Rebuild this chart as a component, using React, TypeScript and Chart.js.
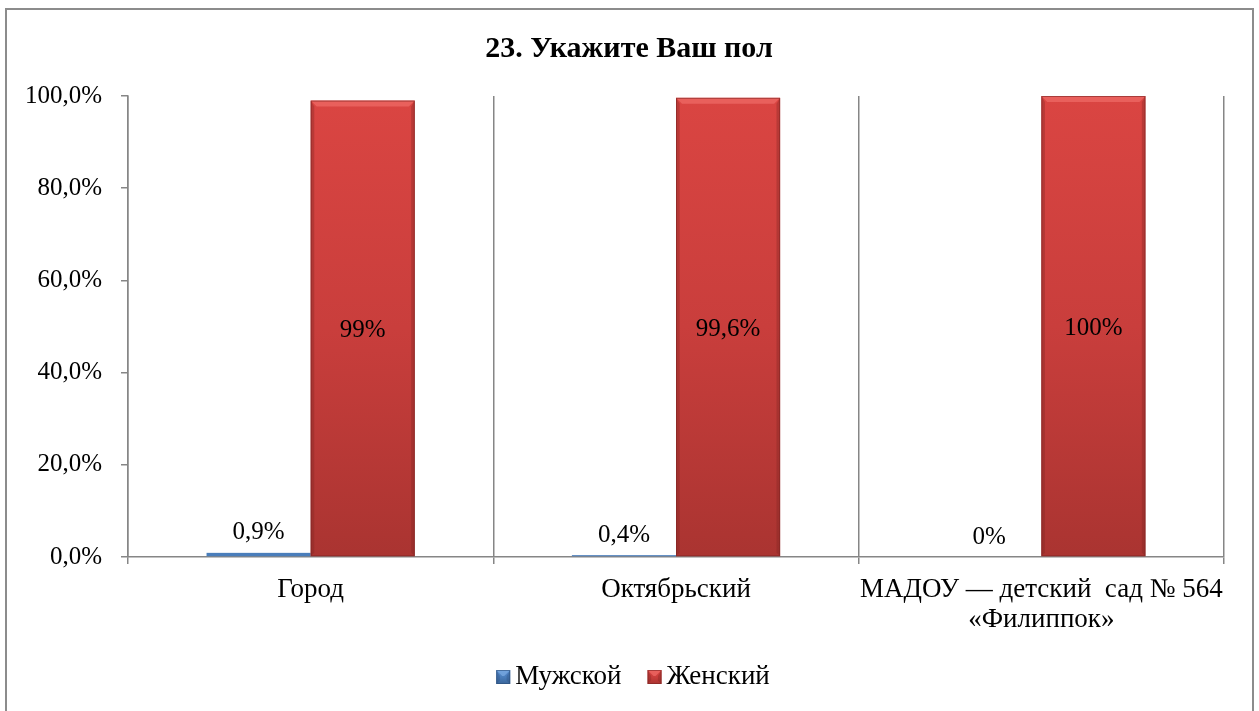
import React, { useEffect, useRef } from "react";
import { Chart, registerables } from "chart.js";
Chart.register(...registerables);

const titleText = "23. Укажите Ваш пол";
const categories: string[][] = [["Город"], ["Октябрьский"], ["МАДОУ — детский  сад № 564", "«Филиппок»"]];
const seriesNames = ["Мужской", "Женский"];
const maleValues = [0.9, 0.4, 0];
const femaleValues = [99, 99.6, 100];
const maleLabels = ["0,9%", "0,4%", "0%"];
const femaleLabels = ["99%", "99,6%", "100%"];
const yTickValues = [0, 20, 40, 60, 80, 100];

const FONT = "'Liberation Serif', 'Times New Roman', serif";
const GRID = "#868686";
const BLUE = { top: "#5A8ED0", mid: "#4A7EBB", bot: "#3A659A", light: "#7AA9E0", dark: "#2C4E7A" };
const RED = { top: "#DA4542", mid: "#C93E3C", bot: "#AA3431", light: "#EE6A66", dark: "#7E2523" };

function bevelRect(ctx: CanvasRenderingContext2D, x: number, y: number, w: number, h: number, c: any) {
  if (h <= 0 || w <= 0) return;
  const g = ctx.createLinearGradient(0, y, 0, y + h);
  g.addColorStop(0, c.top);
  g.addColorStop(0.5, c.mid);
  g.addColorStop(1, c.bot);
  ctx.fillStyle = g;
  ctx.fillRect(x, y, w, h);
  const b = Math.min(6, h / 2, w / 2);
  ctx.fillStyle = c.light;
  ctx.globalAlpha = 0.75;
  ctx.beginPath();
  ctx.moveTo(x, y);
  ctx.lineTo(x + w, y);
  ctx.lineTo(x + w - b, y + b);
  ctx.lineTo(x + b, y + b);
  ctx.closePath();
  ctx.fill();
  ctx.fillStyle = c.dark;
  ctx.globalAlpha = 0.35;
  ctx.beginPath();
  ctx.moveTo(x, y);
  ctx.lineTo(x + b * 0.6, y + b);
  ctx.lineTo(x + b * 0.6, y + h - b * 0.6);
  ctx.lineTo(x, y + h);
  ctx.closePath();
  ctx.fill();
  ctx.beginPath();
  ctx.moveTo(x + w, y);
  ctx.lineTo(x + w - b * 0.6, y + b);
  ctx.lineTo(x + w - b * 0.6, y + h - b * 0.6);
  ctx.lineTo(x + w, y + h);
  ctx.closePath();
  ctx.fill();
  ctx.strokeStyle = c.dark;
  ctx.globalAlpha = 0.6;
  ctx.lineWidth = 1;
  ctx.strokeRect(x + 0.5, y + 0.5, w - 1, h - 1);
  ctx.globalAlpha = 1;
}

const decorPlugin = {
  id: "decor",
  beforeDraw(chart: any) {
    const ctx = chart.ctx;
    ctx.save();
    ctx.fillStyle = "#ffffff";
    ctx.fillRect(0, 0, chart.width, chart.height);
    ctx.strokeStyle = "#8c8c8c";
    ctx.lineWidth = 2;
    ctx.strokeRect(6, 9, 1247, 800);
    ctx.fillStyle = "#000";
    ctx.font = `bold 30px ${FONT}`;
    ctx.textAlign = "center";
    ctx.textBaseline = "middle";
    ctx.fillText(titleText, 629, 49);
    ctx.restore();
  },
  afterDatasetsDraw(chart: any) {
    const ctx = chart.ctx;
    ctx.save();
    const colors = [BLUE, RED];
    chart.data.datasets.forEach((ds: any, di: number) => {
      const meta = chart.getDatasetMeta(di);
      meta.data.forEach((bar: any, i: number) => {
        const p = bar.getProps(["x", "y", "base", "width"], true);
        const left = p.x - p.width / 2;
        const top = Math.min(p.y, p.base);
        const h = Math.abs(p.base - p.y);
        if (h > 0) {
          if (h < 6) {
            ctx.fillStyle = colors[di].mid;
            ctx.fillRect(left, top, p.width, h);
          } else {
            bevelRect(ctx, left, top, p.width, h, colors[di]);
          }
        }
        ctx.fillStyle = "#000";
        ctx.font = `25px ${FONT}`;
        ctx.textAlign = "center";
        ctx.textBaseline = "middle";
        if (di === 0) {
          ctx.fillText(maleLabels[i], p.x, top - 20);
        } else {
          ctx.fillText(femaleLabels[i], p.x, (p.y + p.base) / 2 + 2);
        }
      });
    });
    ctx.font = `27px ${FONT}`;
    ctx.textBaseline = "middle";
    ctx.textAlign = "left";
    const box = 14, gapBox = 5, gapItem = 26;
    const widths = seriesNames.map((n) => box + gapBox + ctx.measureText(n).width);
    const total = widths.reduce((a, b) => a + b, 0) + gapItem * (seriesNames.length - 1);
    let x = 633 - total / 2;
    const ly = 677;
    seriesNames.forEach((n, i) => {
      bevelRect(ctx, x, ly - box / 2, box, box, colors[i]);
      ctx.fillStyle = "#000";
      ctx.fillText(n, x + box + gapBox, ly);
      x += widths[i] + gapItem;
    });
    ctx.restore();
  },
};

export default function App() {
  const ref = useRef<HTMLCanvasElement>(null);
  useEffect(() => {
    if (!ref.current) return;
    const chart = new Chart(ref.current, {
      type: "bar",
      data: {
        labels: categories,
        datasets: [
          { label: seriesNames[0], data: maleValues, backgroundColor: "rgba(0,0,0,0)", borderWidth: 0 },
          { label: seriesNames[1], data: femaleValues, backgroundColor: "rgba(0,0,0,0)", borderWidth: 0 },
        ],
      },
      options: {
        animation: false,
        responsive: false,
        maintainAspectRatio: false,
        events: [],
        layout: { padding: { left: 6, right: 35, top: 96, bottom: 76 } },
        datasets: { bar: { barPercentage: 1, categoryPercentage: 0.57 } },
        plugins: {
          legend: { display: false },
          title: { display: false },
          tooltip: { enabled: false },
        },
        scales: {
          x: {
            grid: { display: true, offset: true, color: GRID, lineWidth: 1.5, drawTicks: true, tickLength: 7 },
            border: { display: true, color: GRID, width: 1.5 },
            ticks: { color: "#000", font: { family: FONT, size: 27, lineHeight: 1.11 }, padding: 11, maxRotation: 0, autoSkip: false },
            afterFit: (s: any) => { s.height = 78; },
          },
          y: {
            min: 0,
            max: 100,
            afterBuildTicks: (s: any) => { s.ticks = yTickValues.map((v) => ({ value: v })); },
            grid: { drawOnChartArea: false, drawTicks: true, tickLength: 7, color: GRID, lineWidth: 1.5 },
            border: { display: true, color: GRID, width: 1.5 },
            ticks: {
              color: "#000",
              font: { family: FONT, size: 25 },
              padding: 19,
              callback: (v: any) => Number(v).toFixed(1).replace(".", ",") + "%",
            },
            afterFit: (s: any) => { s.width = 122; },
          },
        },
      },
      plugins: [decorPlugin],
    });
    return () => chart.destroy();
  }, []);
  return (
    <div style={{ position: "fixed", left: 0, top: 0, width: 1259, height: 711 }}>
      <canvas ref={ref} width={1259} height={711} style={{ width: 1259, height: 711, display: "block" }} />
    </div>
  );
}
